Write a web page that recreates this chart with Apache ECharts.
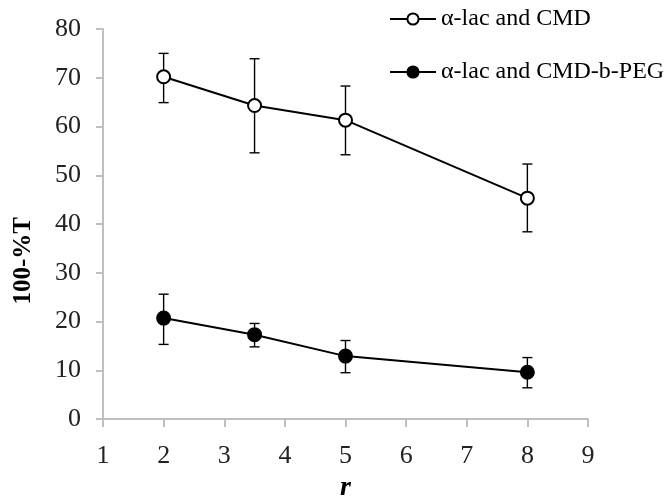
<!DOCTYPE html>
<html><head><meta charset="utf-8">
<script src="https://cdn.jsdelivr.net/npm/echarts@6/dist/echarts.min.js"></script>
<style>html,body{margin:0;padding:0;background:#fff}#c{width:667px;height:497px}</style>
</head><body><div id="c"></div>
<script>
var xValues = [2, 3.5, 5, 8];
var cmdMean = [70.2, 64.3, 61.3, 45.3];
var cmdHigh = [75.0, 73.9, 68.3, 52.3];
var cmdLow  = [64.9, 54.6, 54.2, 38.4];
var pegMean = [20.7, 17.3, 12.9, 9.6];
var pegHigh = [25.6, 19.6, 16.1, 12.6];
var pegLow  = [15.3, 14.8, 9.5, 6.4];
var xTicks = [1, 2, 3, 4, 5, 6, 7, 8, 9];
var yTicks = [0, 10, 20, 30, 40, 50, 60, 70, 80];
var yTitle = '100-%T';
var xTitle = 'r';

function pairs(m){ return xValues.map(function(x,i){ return [x, m[i]]; }); }
function errData(lo, hi){ return xValues.map(function(x,i){ return [x, lo[i], hi[i]]; }); }
function errRender(params, api){
  var x = api.value(0);
  var p1 = api.coord([x, api.value(1)]);
  var p2 = api.coord([x, api.value(2)]);
  var w = 5;
  var st = {stroke:'#000', lineWidth:1.4};
  return {type:'group', children:[
    {type:'line', shape:{x1:p1[0], y1:p1[1], x2:p2[0], y2:p2[1]}, style:st},
    {type:'line', shape:{x1:p1[0]-w, y1:p1[1], x2:p1[0]+w, y2:p1[1]}, style:st},
    {type:'line', shape:{x1:p2[0]-w, y1:p2[1], x2:p2[0]+w, y2:p2[1]}, style:st}
  ]};
}
var font = 'Liberation Serif';
var chart = echarts.init(document.getElementById('c'));
chart.setOption({
  animation:false,
  backgroundColor:'#fff',
  grid:{left:103, right:79, top:29, bottom:78, containLabel:false, outerBoundsMode:'none'},
  legend:{
    orient:'vertical', left:384, top:2, itemGap:29, itemWidth:46, itemHeight:14,
    textStyle:{fontFamily:font, fontSize:24, color:'#000'},
    data:['α-lac and CMD','α-lac and CMD-b-PEG']
  },
  graphic:[{
    type:'text', left:11, top:217, rotation:Math.PI/2,
    style:{text:yTitle, fontFamily:font, fontSize:25, fontWeight:'bold', fill:'#000'}
  }],
  xAxis:{
    type:'value', min:1, max:9, interval:1,
    name:xTitle, nameLocation:'middle', nameGap:55,
    nameTextStyle:{fontFamily:font, fontSize:28, fontWeight:'bold', fontStyle:'italic', color:'#000'},
    axisLine:{lineStyle:{color:'#bfbfbf', width:2}},
    axisTick:{show:true, length:8, lineStyle:{color:'#bfbfbf', width:2}},
    axisLabel:{fontFamily:font, fontSize:26, color:'#222', margin:24},
    splitLine:{show:false}
  },
  yAxis:{
    type:'value', min:0, max:80, interval:10,
    axisLine:{show:true, lineStyle:{color:'#bfbfbf', width:2}},
    axisTick:{show:true, length:7, lineStyle:{color:'#bfbfbf', width:2}},
    axisLabel:{fontFamily:font, fontSize:26, color:'#222', margin:22},
    splitLine:{show:false}
  },
  series:[
    {type:'custom', renderItem:errRender, data:errData(cmdLow, cmdHigh), z:1, encode:{x:0, y:[1,2]}},
    {type:'custom', renderItem:errRender, data:errData(pegLow, pegHigh), z:1, encode:{x:0, y:[1,2]}},
    {name:'α-lac and CMD', type:'line', data:pairs(cmdMean), symbol:'circle', symbolSize:13,
     lineStyle:{color:'#000', width:2}, itemStyle:{color:'#fff', borderColor:'#000', borderWidth:2}, z:3},
    {name:'α-lac and CMD-b-PEG', type:'line', data:pairs(pegMean), symbol:'circle', symbolSize:13,
     lineStyle:{color:'#000', width:2}, itemStyle:{color:'#000', borderColor:'#000', borderWidth:2}, z:3}
  ]
});
</script></body></html>
